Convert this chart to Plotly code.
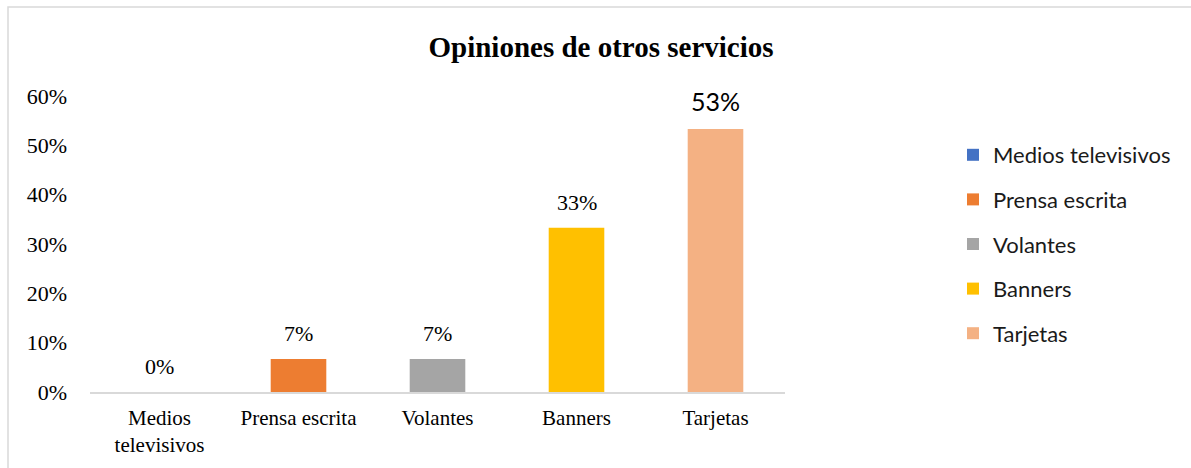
import plotly.graph_objects as go

# Survey results: opinion of other advertising services
categories = ["Medios televisivos", "Prensa escrita", "Volantes", "Banners", "Tarjetas"]
tick_labels = ["Medios<br>televisivos", "Prensa escrita", "Volantes", "Banners", "Tarjetas"]
shares = [0.0, 0.0667, 0.0667, 0.333, 0.533]
colors = ["#4472C4", "#ED7D31", "#A5A5A5", "#FFC000", "#F4B183"]
label_fonts = ["Liberation Serif", "Liberation Serif", "Liberation Serif",
               "Liberation Serif", "Lato"]
label_sizes = [22, 22, 22, 22, 25]

W, H = 1191, 468
L, R, T, B = 90, 406, 96, 76
pw, ph = W - L - R, H - T - B

fig = go.Figure()
for i, (cat, val, col) in enumerate(zip(categories, shares, colors)):
    fig.add_trace(go.Bar(
        x=[cat], y=[val], name=cat, marker=dict(color=col, line=dict(width=0)),
        width=0.4, legendgroup=f"g{i}", hoverinfo="skip",
    ))
    fig.add_annotation(
        x=cat, y=val, xref="x", yref="y", text=f"{val:.0%}",
        showarrow=False, yanchor="bottom", yshift=11,
        font=dict(family=label_fonts[i], size=label_sizes[i], color="#000000"),
    )

# light frame around the chart area
fig.add_shape(
    type="rect", xref="paper", yref="paper", layer="below",
    x0=(8 - L) / pw, x1=(W + 10 - L) / pw,
    y0=(T + ph - (H + 10)) / ph, y1=(T + ph - 7) / ph,
    line=dict(color="#D9D9D9", width=1.5), fillcolor="rgba(0,0,0,0)",
)

fig.update_layout(
    width=W, height=H,
    margin=dict(l=L, r=R, t=T, b=B, autoexpand=False),
    paper_bgcolor="white", plot_bgcolor="white",
    barmode="overlay",
    title=dict(text="<b>Opiniones de otros servicios</b>", x=(601 - L) / pw, xref="paper",
               xanchor="center", y=1 - 47 / H, yanchor="middle",
               font=dict(family="Liberation Serif", size=29, color="#000000")),
    legend=dict(x=(953 - L) / pw, xanchor="left", y=(T + ph - 134) / ph, yanchor="top",
                font=dict(family="Lato", size=22, color="#1a1a1a"),
                tracegroupgap=13, bgcolor="rgba(0,0,0,0)"),
    showlegend=True,
)
fig.update_xaxes(
    type="category", categoryorder="array", categoryarray=categories,
    tickvals=categories, ticktext=tick_labels,
    showline=True, linecolor="#D9D9D9", linewidth=1.5, ticks="",
    showgrid=False, zeroline=False, ticklabelstandoff=6,
    tickfont=dict(family="Liberation Serif", size=21, color="#000000"),
)
fig.update_yaxes(
    range=[0, 0.6], dtick=0.1, tickformat=".0%", showgrid=False, zeroline=False,
    showline=False, ticks="", ticklabelstandoff=22,
    tickfont=dict(family="Liberation Serif", size=22, color="#000000"),
)

fig.write_html("out.html")
